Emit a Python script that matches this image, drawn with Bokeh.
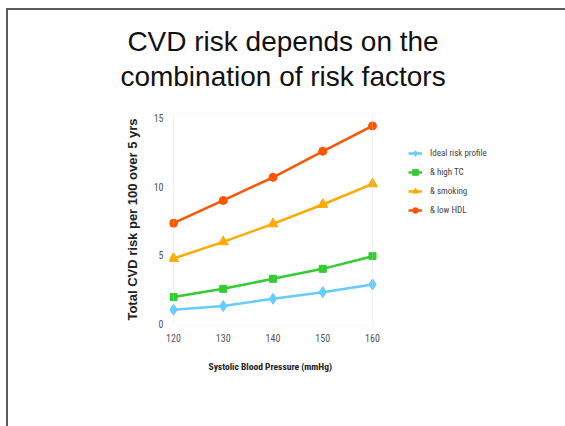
from bokeh.plotting import figure
from bokeh.layouts import column
from bokeh.models import (Range1d, FixedTicker, Legend, LegendItem, Title,
                          BoxAnnotation)
from bokeh.embed import file_html
from bokeh.resources import INLINE

# ---- data ----
sbp = [120, 130, 140, 150, 160]
ideal = [1.06, 1.33, 1.86, 2.34, 2.90]
high_tc = [1.98, 2.58, 3.31, 4.03, 4.95]
smoking = [4.78, 5.99, 7.29, 8.70, 10.19]
low_hdl = [7.34, 8.99, 10.67, 12.56, 14.40]
series_names = ["Ideal risk profile", "& high TC", "& smoking", "& low HDL"]
x_ticks = [120, 130, 140, 150, 160]
y_ticks = [0, 5, 10, 15]
title_lines = ["CVD risk depends on the", "combination of risk factors"]
x_label = "Systolic Blood Pressure (mmHg)"
y_label = "Total CVD risk per 100 over 5 yrs"

colors = ["#66ccff", "#33cc33", "#ffaa00", "#ff5500"]
markers = ["diamond", "square", "triangle", "circle"]
msizes = [11, 7, 10, 8]

NARROW = "Roboto Condensed, Roboto"

W, H = 557, 416
ML, MR, MT, MB = 161, 5, 103, 101
frame_w = W - ML - MR
px_per_unit = 199 / (max(sbp) - min(sbp))
x_start = min(sbp) - 4 / px_per_unit
x_end = x_start + frame_w / px_per_unit
y_top = 15.3

p = figure(width=W, height=H, output_backend="svg", toolbar_location=None,
           x_range=Range1d(x_start, x_end), y_range=Range1d(-0.08, y_top),
           min_border_left=ML, min_border_right=MR,
           min_border_top=MT, min_border_bottom=MB)
p.outline_line_color = None
p.grid.visible = False

# chart box
p.add_layout(BoxAnnotation(left=min(sbp), right=max(sbp), bottom=p.y_range.start, top=y_top,
                           fill_alpha=0, line_color="#d6d6d6", line_width=1))

items = []
for vals, name, c, m, s in zip([ideal, high_tc, smoking, low_hdl], series_names,
                               colors, markers, msizes):
    r1 = p.line(sbp, vals, line_color=c, line_width=2.5)
    r2 = p.scatter(sbp, vals, marker=m, size=s, fill_color=c, line_color=c)
    items.append(LegendItem(label=name, renderers=[r1, r2]))

legend = Legend(items=items, location=(239, 107))
legend.border_line_color = None
legend.background_fill_alpha = 0
legend.margin = 0
legend.padding = 5
legend.spacing = 3
legend.glyph_width = 14
legend.glyph_height = 16
legend.label_height = 16
legend.label_standoff = 8
legend.label_text_font = NARROW
legend.label_text_font_size = "9px"
legend.label_text_color = "#444444"
p.add_layout(legend)

# axes
for ax in (p.xaxis[0], p.yaxis[0]):
    ax.axis_line_color = None
    ax.major_tick_line_color = None
    ax.minor_tick_line_color = None
    ax.major_tick_out = 0
    ax.major_tick_in = 0
    ax.minor_tick_out = 0
    ax.major_label_text_color = "#555555"
    ax.major_label_text_font = NARROW
    ax.major_label_text_font_size = "10px"

p.xaxis[0].ticker = FixedTicker(ticks=x_ticks)
p.yaxis[0].ticker = FixedTicker(ticks=y_ticks)
p.xaxis[0].major_label_standoff = 8
p.yaxis[0].major_label_standoff = 6

p.yaxis[0].axis_label = y_label
p.yaxis[0].axis_label_text_font = "Liberation Sans"
p.yaxis[0].axis_label_text_font_style = "bold"
p.yaxis[0].axis_label_text_font_size = "13px"
p.yaxis[0].axis_label_text_color = "#222222"
p.yaxis[0].axis_label_standoff = 11

# x axis title, placed below the axis
p.add_layout(Title(text=x_label, align="left", offset=39, standoff=28,
                   text_font=NARROW, text_font_style="bold", text_font_size="9.5px",
                   text_color="#222222"), "below")

# slide title (nearest the frame is added first)
for t, off, so in zip(reversed(title_lines), [-49.1, -42.1], [44, -40]):
    p.add_layout(Title(text=t, align="left", offset=off, standoff=so,
                       text_font="Liberation Sans", text_font_style="normal",
                       text_font_size="28px", text_color="#111111"), "above")

layout = column(p, styles={"margin-left": "6px", "margin-top": "8px",
                           "border-left": "2px solid #5c5c5c",
                           "border-top": "2px solid #5c5c5c"})

open("out.html", "w").write(file_html(layout, INLINE))
